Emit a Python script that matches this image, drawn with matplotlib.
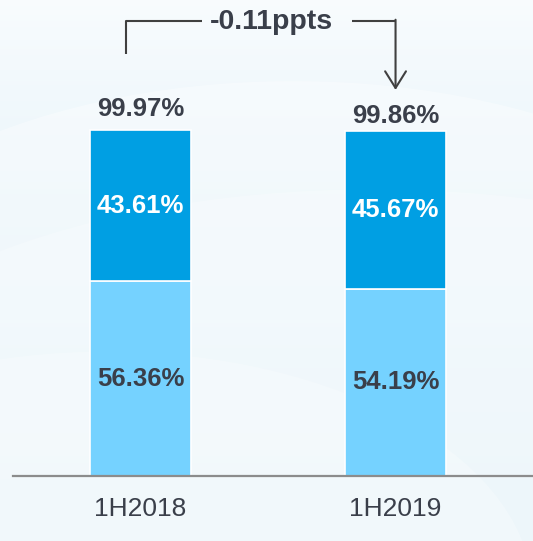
import numpy as np
import matplotlib.pyplot as plt
from matplotlib.patches import Ellipse

plt.rcParams['font.family'] = ['Liberation Sans', 'DejaVu Sans']

# data
periods = ['1H2018', '1H2019']
lower_share = [56.36, 54.19]
upper_share = [43.61, 45.67]
totals = [99.97, 99.86]
change_label = '-0.11ppts'

dark_blue = '#009fe3'
light_blue = '#75d2ff'
text_dark = '#3a3f4a'

fig = plt.figure(figsize=(5.33, 5.41), dpi=100)

# soft background gradient with a few faint arcs
bg = fig.add_axes([0, 0, 1, 1], zorder=-10)
grad = np.linspace(0, 1, 256).reshape(-1, 1)
top = np.array([0.975, 0.988, 0.996])
bot = np.array([0.860, 0.935, 0.968])
img = top + (bot - top) * grad[..., None] ** 0.8
bg.imshow(img, aspect='auto', extent=[0, 1, 0, 1], origin='upper')
for cx, cy, w, h, a in [(0.55, 0.35, 1.9, 1.0, 0.35), (0.7, 0.15, 2.2, 1.0, 0.25),
                        (0.2, -0.1, 1.6, 0.9, 0.25)]:
    bg.add_patch(Ellipse((cx, cy), w, h, facecolor='white', edgecolor='none', alpha=a))
bg.set_xlim(0, 1)
bg.set_ylim(0, 1)
bg.axis('off')

ax = fig.add_axes([13 / 533, 65 / 541, 520 / 533, 476 / 541])
ax.patch.set_alpha(0)
x = np.arange(len(periods))
w = 0.396
ax.bar(x, lower_share, w, color=light_blue, edgecolor='white', linewidth=1.2)
ax.bar(x, upper_share, w, bottom=lower_share, color=dark_blue, edgecolor='white', linewidth=1.2)

for i in x:
    ax.text(i, lower_share[i] / 2, f'{lower_share[i]:.2f}%', ha='center', va='center',
            fontsize=18.5, fontweight='bold', color=text_dark)
    ax.text(i, lower_share[i] + upper_share[i] / 2, f'{upper_share[i]:.2f}%', ha='center',
            va='center', fontsize=18.5, fontweight='bold', color='white')

total_offsets = [6.0, 4.2]
for i in x:
    ax.text(i, totals[i] + total_offsets[i], f'{totals[i]:.2f}%', ha='center', va='center',
            fontsize=18.5, fontweight='bold', color=text_dark)

# bracket with arrow
line_kw = dict(color='#404040', lw=1.5, clip_on=False, solid_capstyle='butt')
ax.plot([-0.057, -0.057, 0.24], [122, 131.5, 131.5], **line_kw)
ax.plot([0.83, 1.0], [131.5, 131.5], **line_kw)
ax.annotate('', xy=(1.0, 111.6), xytext=(1.0, 131.9),
            arrowprops=dict(arrowstyle='->,head_length=1.2,head_width=0.75',
                            color='#404040', lw=1.5, shrinkA=0, shrinkB=0))
ax.text(0.512, 131.2, change_label, ha='center', va='center', fontsize=20.5,
        fontweight='bold', color=text_dark)

ax.set_xlim(-0.5, 1.539)
ax.set_ylim(0, 137.6)
ax.set_xticks(x)
ax.set_xticklabels(periods, fontsize=19, color=text_dark)
ax.tick_params(axis='x', length=0, pad=15)
ax.set_yticks([])
for s in ['top', 'left', 'right']:
    ax.spines[s].set_visible(False)
ax.spines['bottom'].set_color('#8c8c8c')
ax.spines['bottom'].set_linewidth(1.6)

fig.savefig('out.png', dpi=100)
